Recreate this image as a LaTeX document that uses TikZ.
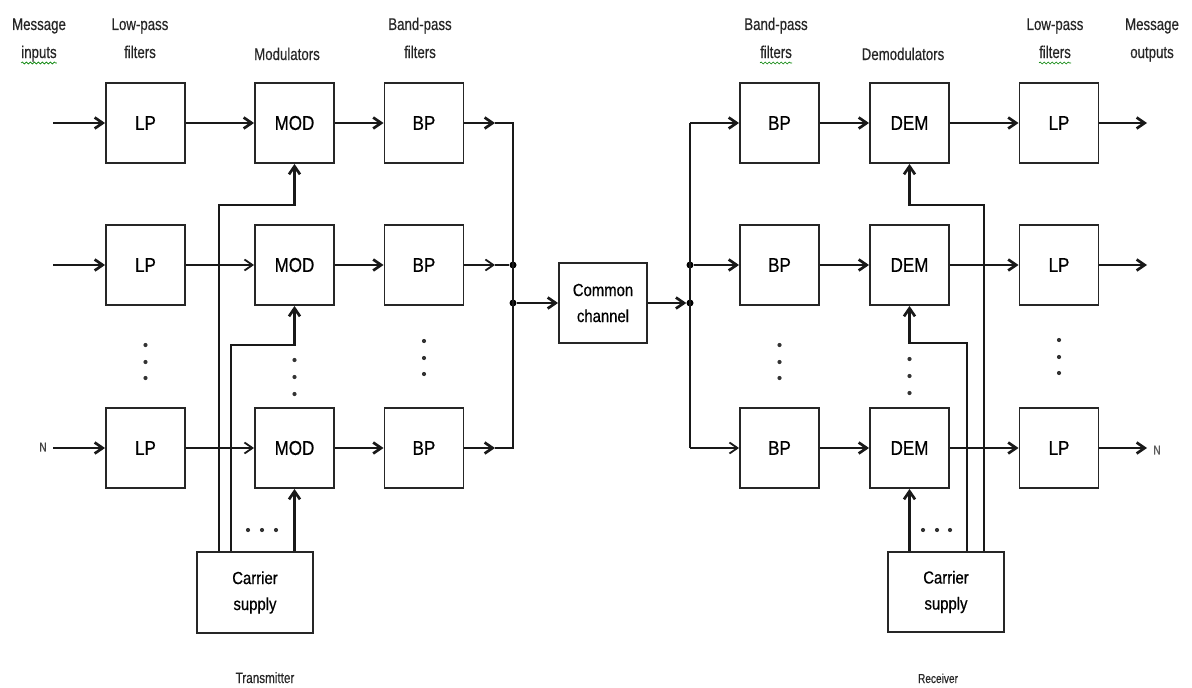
\documentclass[tikz,border=0pt]{standalone}
\usepackage{fontspec}
\setmainfont{Liberation Sans}
\newfontfamily\boxfont[FakeStretch=0.85,FakeBold=0.6]{Liberation Sans}
\newfontfamily\lblfont[FakeStretch=0.78,FakeBold=0.4]{Liberation Sans}
\usetikzlibrary{arrows.meta,decorations.pathmorphing}
\begin{document}
\begin{tikzpicture}[x=1pt,y=-1pt,
  blk/.style={draw=black!85, line width=1.9pt, minimum width=79pt, minimum height=80pt, inner sep=0pt, align=center,
    font=\boxfont\fontsize{20}{22}\selectfont},
  big/.style={blk, font=\boxfont\fontsize{17.5}{26}\selectfont},
  wire/.style={line width=2.7pt, draw=black!90},
  thinwire/.style={line width=1.8pt, draw=black!90},
  arr/.style={-{Straight Barb[length=8pt,width=11pt]}},
  hdr/.style={font=\lblfont\fontsize{17}{18}\selectfont, anchor=base, inner sep=0pt, text=black!85},
  jdot/.style={circle, fill=black, inner sep=0pt, minimum size=7pt},
  vdot/.style={circle, fill=black!80, inner sep=0pt, minimum size=4.2pt},
  squig/.style={draw=green!50!black, line width=0.6pt, decorate, decoration={snake, amplitude=1pt, segment length=4pt}}
]
\useasboundingbox (0,0) rectangle (1192,688);

% ---------- headers ----------
\node[hdr] (h1a) at (39,30) {Message};
\node[hdr] (h1b) at (39,58) {inputs};
\node[hdr] (h2a) at (140,30) {Low-pass};
\node[hdr] (h2b) at (140,58) {filters};
\node[hdr] (h3) at (287,60) {Modulators};
\node[hdr] (h4a) at (420,30) {Band-pass};
\node[hdr] (h4b) at (420,58) {filters};
\node[hdr] (h5a) at (776,30) {Band-pass};
\node[hdr] (h5b) at (776,58) {filters};
\node[hdr] (h6) at (903,60) {Demodulators};
\node[hdr] (h7a) at (1055,30) {Low-pass};
\node[hdr] (h7b) at (1055,58) {filters};
\node[hdr] (h8a) at (1152,30) {Message};
\node[hdr] (h8b) at (1152,58) {outputs};
\draw[squig] ([yshift=-5pt]h1b.base west) -- ([yshift=-5pt]h1b.base east);
\draw[squig] ([yshift=-5pt]h5b.base west) -- ([yshift=-5pt]h5b.base east);
\draw[squig] ([yshift=-5pt]h7b.base west) -- ([yshift=-5pt]h7b.base east);

% ---------- transmitter blocks ----------
\node[blk] (lp1) at (145.5,123) {LP};
\node[blk] (mod1) at (294.5,123) {MOD};
\node[blk] (bp1) at (424,123) {BP};
\node[blk] (lp2) at (145.5,265) {LP};
\node[blk] (mod2) at (294.5,265) {MOD};
\node[blk] (bp2) at (424,265) {BP};
\node[blk] (lp3) at (145.5,448) {LP};
\node[blk] (mod3) at (294.5,448) {MOD};
\node[blk] (bp3) at (424,448) {BP};
\node[big, minimum width=116pt, minimum height=81pt] (cs1) at (255,592.5) {Carrier\\supply};

% ---------- channel ----------
\node[big, minimum width=88pt] (cc) at (603,303) {Common\\channel};

% ---------- receiver blocks ----------
\node[blk] (bpr1) at (779.5,123) {BP};
\node[blk] (dem1) at (909.5,123) {DEM};
\node[blk] (lpr1) at (1059,123) {LP};
\node[blk] (bpr2) at (779.5,265) {BP};
\node[blk] (dem2) at (909.5,265) {DEM};
\node[blk] (lpr2) at (1059,265) {LP};
\node[blk] (bpr3) at (779.5,448) {BP};
\node[blk] (dem3) at (909.5,448) {DEM};
\node[blk] (lpr3) at (1059,448) {LP};
\node[big, minimum width=116pt, minimum height=80pt] (cs2) at (946,592) {Carrier\\supply};

% ---------- coordinates ----------
\coordinate (in1) at (53,123);
\coordinate (in2) at (53,265);
\coordinate (in3) at (53,448);
\node[font=\lblfont\fontsize{13}{14}\selectfont, text=black!75, inner sep=0pt] (nin) at (43,447) {N};
\coordinate (m1) at (495,123);
\coordinate (m2) at (495,265);
\coordinate (m3) at (495,448);
\coordinate (bl1) at (513,123);
\coordinate (bl3) at (513,448);
\node[jdot] (jl2) at (513,265) {};
\node[jdot] (jlc) at (513,303) {};
\node[jdot] (jrc) at (690,303) {};
\node[jdot] (jr2) at (690,265) {};
\coordinate (br1) at (690,123);
\coordinate (br3) at (690,448);
\coordinate (out1) at (1147,123);
\coordinate (out2) at (1147,265);
\coordinate (out3) at (1147,448);
\node[font=\lblfont\fontsize{13}{14}\selectfont, text=black!65, inner sep=0pt] (nout) at (1157,450) {N};

% ---------- transmitter wiring ----------
\draw[wire,arr] (in1) -- (lp1.west);
\draw[wire,arr] (lp1) -- (mod1);
\draw[wire,arr] (mod1) -- (bp1);
\draw[wire,arr] (bp1.east) -- (m1);
\draw[wire,arr] (in2) -- (lp2.west);
\draw[thinwire,arr] (lp2) -- (mod2);
\draw[wire,arr] (mod2) -- (bp2);
\draw[thinwire,arr] (bp2.east) -- (m2);
\draw[wire,arr] (in3) -- (lp3.west);
\draw[thinwire,arr] (lp3) -- (mod3);
\draw[wire,arr] (mod3) -- (bp3);
\draw[wire,arr] (bp3.east) -- (m3);
\draw[wire] (m1) -- (bl1) -- (bl3) -- (m3);
\draw[thinwire] (m2) -- (jl2);
\draw[wire,arr] (jlc) -- (cc.west);

% carrier supply (tx)
\coordinate (t1) at (219,205);
\coordinate (t2) at (231,345);
\draw[wire,arr] (cs1.north -| t1) -- (t1) -| (mod1.south);
\draw[wire,arr] (cs1.north -| t2) -- (t2) -| (mod2.south);
\draw[wire,arr] (cs1.north -| mod3.south) -- (mod3.south);

% ---------- receiver wiring ----------
\draw[wire,arr] (cc.east) -- (jrc);
\draw[wire] (br1) -- (br3);
\draw[wire,arr] (br1) -- (bpr1.west);
\draw[wire,arr] (jr2) -- (bpr2.west);
\draw[thinwire,arr] (br3) -- (bpr3.west);
\draw[wire,arr] (bpr1) -- (dem1);
\draw[wire,arr] (dem1) -- (lpr1);
\draw[wire,arr] (lpr1.east) -- (out1);
\draw[wire,arr] (bpr2) -- (dem2);
\draw[wire,arr] (dem2) -- (lpr2);
\draw[wire,arr] (lpr2.east) -- (out2);
\draw[wire,arr] (bpr3) -- (dem3);
\draw[wire,arr] (dem3) -- (lpr3);
\draw[wire,arr] (lpr3.east) -- (out3);

% carrier supply (rx)
\coordinate (r1) at (984,205);
\coordinate (r2) at (967,343);
\draw[wire,arr] (cs2.north -| r1) -- (r1) -| (dem1.south);
\draw[wire,arr] (cs2.north -| r2) -- (r2) -| (dem2.south);
\draw[wire,arr] (cs2.north -| dem3.south) -- (dem3.south);

% ---------- ellipsis dots ----------
\foreach \y in {345,362,378} \node[vdot] at (145.5,\y) {};
\foreach \y in {360,377,394} \node[vdot] at (294.5,\y) {};
\foreach \y in {341,358,374} \node[vdot] at (424,\y) {};
\foreach \x in {248,262,276} \node[vdot] at (\x,530) {};
\foreach \y in {345,362,378} \node[vdot] at (779.5,\y) {};
\foreach \y in {359,376,393} \node[vdot] at (909.5,\y) {};
\foreach \y in {340,357,373} \node[vdot] at (1059,\y) {};
\foreach \x in {923,937,950} \node[vdot] at (\x,530) {};

% ---------- bottom labels ----------
\node[hdr, font=\lblfont\fontsize{15}{16}\selectfont] (tx) at (265,683) {Transmitter};
\node[hdr, font=\lblfont\fontsize{13}{16}\selectfont] (rx) at (938,683) {Receiver};
\end{tikzpicture}
\end{document}
